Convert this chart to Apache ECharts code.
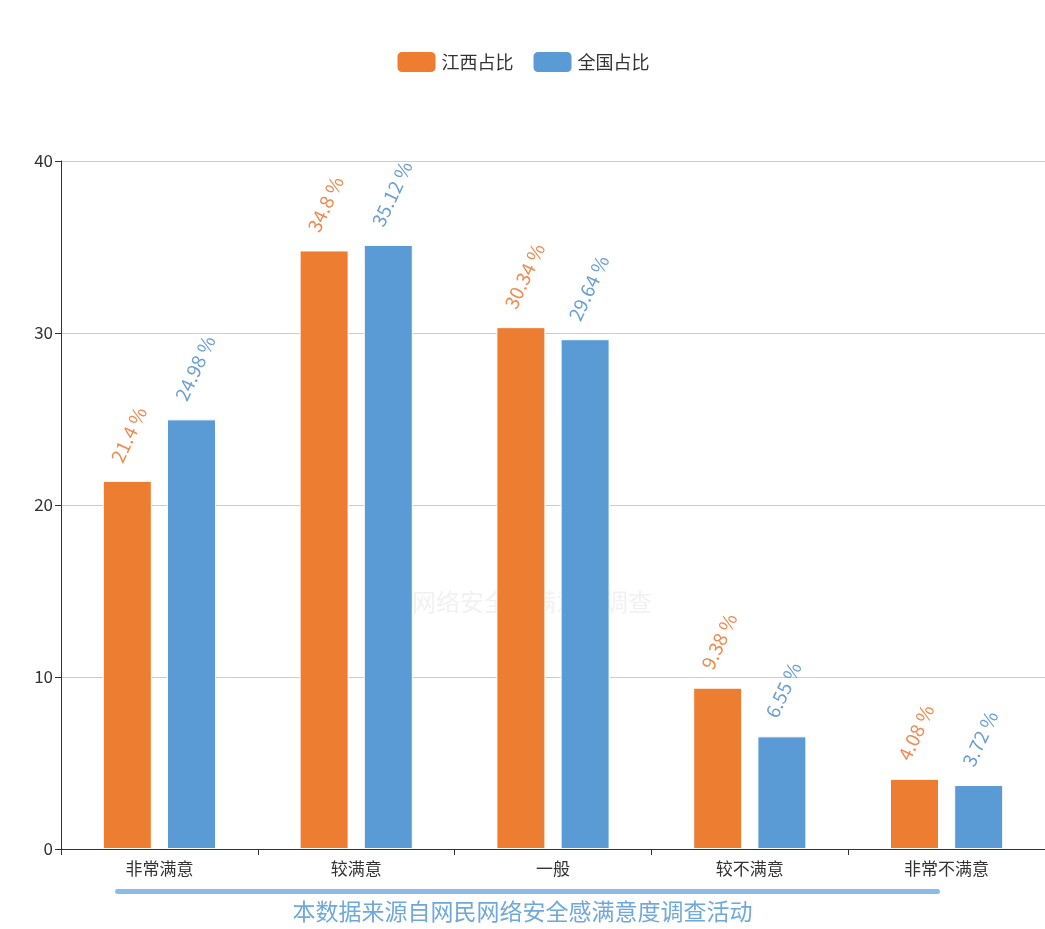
<!DOCTYPE html>
<html><head><meta charset="utf-8">
<script src="https://cdn.jsdelivr.net/npm/echarts@6/dist/echarts.min.js"></script>
<style>html,body{margin:0;padding:0;background:#fff}#c{width:1045px;height:929px}</style>
</head><body><div id="c"></div>
<script>
var categories = ['非常满意', '较满意', '一般', '较不满意', '非常不满意'];
var jiangxi = [21.4, 34.8, 30.34, 9.38, 4.08];
var national = [24.98, 35.12, 29.64, 6.55, 3.72];
var seriesNames = ['江西占比', '全国占比'];
var yTicks = [0, 10, 20, 30, 40];
var footnote = '本数据来源自网民网络安全感满意度调查活动';

var font = '"Noto Sans CJK SC", "Noto Sans", sans-serif';
var chart = echarts.init(document.getElementById('c'));
function lbl(color) {
  return {
    show: true, position: 'top', rotate: 65, align: 'left', verticalAlign: 'middle',
    distance: 8, offset: [6, -15], color: color, fontSize: 19, fontFamily: font,
    formatter: function (p) { return p.value + ' %'; }
  };
}
chart.setOption({
  animation: false,
  textStyle: { fontFamily: font },
  legend: {
    top: 45, left: 'center', itemWidth: 40, itemHeight: 22, itemGap: 18,
    textStyle: { fontSize: 18, color: '#333', fontFamily: font },
    data: seriesNames
  },
  grid: { left: 61, right: 0, top: 161, bottom: 80, containLabel: false },
  xAxis: {
    type: 'category', data: categories,
    axisLine: { lineStyle: { color: '#333', width: 1 } },
    axisTick: { show: true, length: 6, lineStyle: { color: '#333' } },
    axisLabel: { fontSize: 17, color: '#333', margin: 11, fontFamily: font }
  },
  yAxis: {
    type: 'value', min: yTicks[0], max: yTicks[yTicks.length - 1], interval: 10,
    axisLine: { show: true, lineStyle: { color: '#333', width: 1 } },
    axisTick: { show: true, length: 6, lineStyle: { color: '#333' } },
    axisLabel: { fontSize: 17, color: '#333', margin: 8, fontFamily: font },
    splitLine: { lineStyle: { color: '#ccc' } }
  },
  graphic: [
    { type: 'rect', shape: { x: 115, y: 889, width: 825, height: 5, r: 2.5 }, style: { fill: '#8dbbe9' } },
    { type: 'text', left: 'center', top: 900, style: { text: footnote, fill: '#6fa8dc', fontSize: 23, fontFamily: font } },
    { type: 'text', left: 412, top: 590, silent: true, z: -1,
      style: { text: '网络安全感满意度调查', fill: 'rgba(200,200,200,0.25)', fontSize: 24, fontFamily: font } }
  ],
  series: [
    { name: seriesNames[0], type: 'bar', data: jiangxi, barWidth: 49, barGap: '31%',
      itemStyle: { color: '#ed7d31', borderColor: '#fff', borderWidth: 1 }, label: lbl('#ee8a50') },
    { name: seriesNames[1], type: 'bar', data: national, barWidth: 49, barGap: '31%',
      itemStyle: { color: '#5b9bd5', borderColor: '#fff', borderWidth: 1 }, label: lbl('#6a9fd4') }
  ]
});
</script></body></html>
